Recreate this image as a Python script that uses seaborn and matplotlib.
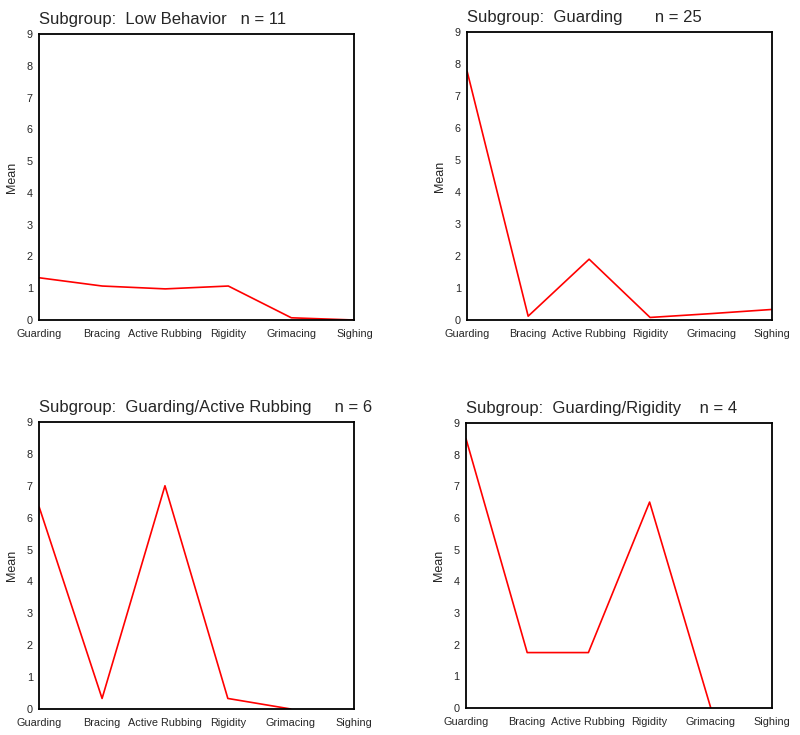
import numpy as np
import pandas as pd
import matplotlib
matplotlib.use("Agg")
import matplotlib.pyplot as plt
import seaborn as sns

behaviors = ["Guarding", "Bracing", "Active Rubbing", "Rigidity", "Grimacing", "Sighing"]

low_behavior = [1.33, 1.07, 0.98, 1.07, 0.07, 0.0]
guarding = [7.76, 0.12, 1.9, 0.08, 0.2, 0.33]
guarding_rubbing = [6.33, 0.33, 7.0, 0.33, 0.0, np.nan]
guarding_rigidity = [8.5, 1.75, 1.75, 6.5, 0.0, np.nan]

titles = [
    "Subgroup:  Low Behavior   n = 11",
    "Subgroup:  Guarding       n = 25",
    "Subgroup:  Guarding/Active Rubbing     n = 6",
    "Subgroup:  Guarding/Rigidity    n = 4",
]
series = [low_behavior, guarding, guarding_rubbing, guarding_rigidity]

positions = [
    [0.049, 0.5646, 0.394, 0.389],
    [0.584, 0.5646, 0.381, 0.392],
    [0.049, 0.0354, 0.393, 0.3905],
    [0.5825, 0.0367, 0.3825, 0.388],
]

sns.set_style("white")
plt.rcParams["font.family"] = ["Liberation Sans", "DejaVu Sans"]

fig = plt.figure(figsize=(8, 7.35), dpi=100)

for pos, title, vals in zip(positions, titles, series):
    ax = fig.add_axes(pos)
    df = pd.DataFrame({"x": np.arange(len(behaviors)), "Mean": vals})
    sns.lineplot(data=df, x="x", y="Mean", ax=ax, color="#ff0000", linewidth=1.2)
    ax.set_xlim(0, len(behaviors) - 1)
    ax.set_ylim(0, 9)
    ax.set_xticks(np.arange(len(behaviors)))
    ax.set_xticklabels(behaviors, fontsize=7.8)
    ax.set_yticks(range(10))
    ax.set_yticklabels([str(i) for i in range(10)], fontsize=7.8)
    ax.tick_params(direction="inout", length=3, width=2, color="black")
    ax.tick_params(axis="x", pad=5)
    ax.tick_params(axis="y", pad=3)
    ax.set_xlabel("")
    ax.set_ylabel("Mean", fontsize=9, labelpad=6)
    for s in ax.spines.values():
        s.set_color("black")
        s.set_linewidth(1.3)
    ax.set_title(title, loc="left", fontsize=12, pad=7)

fig.savefig("out.png", dpi=100)
